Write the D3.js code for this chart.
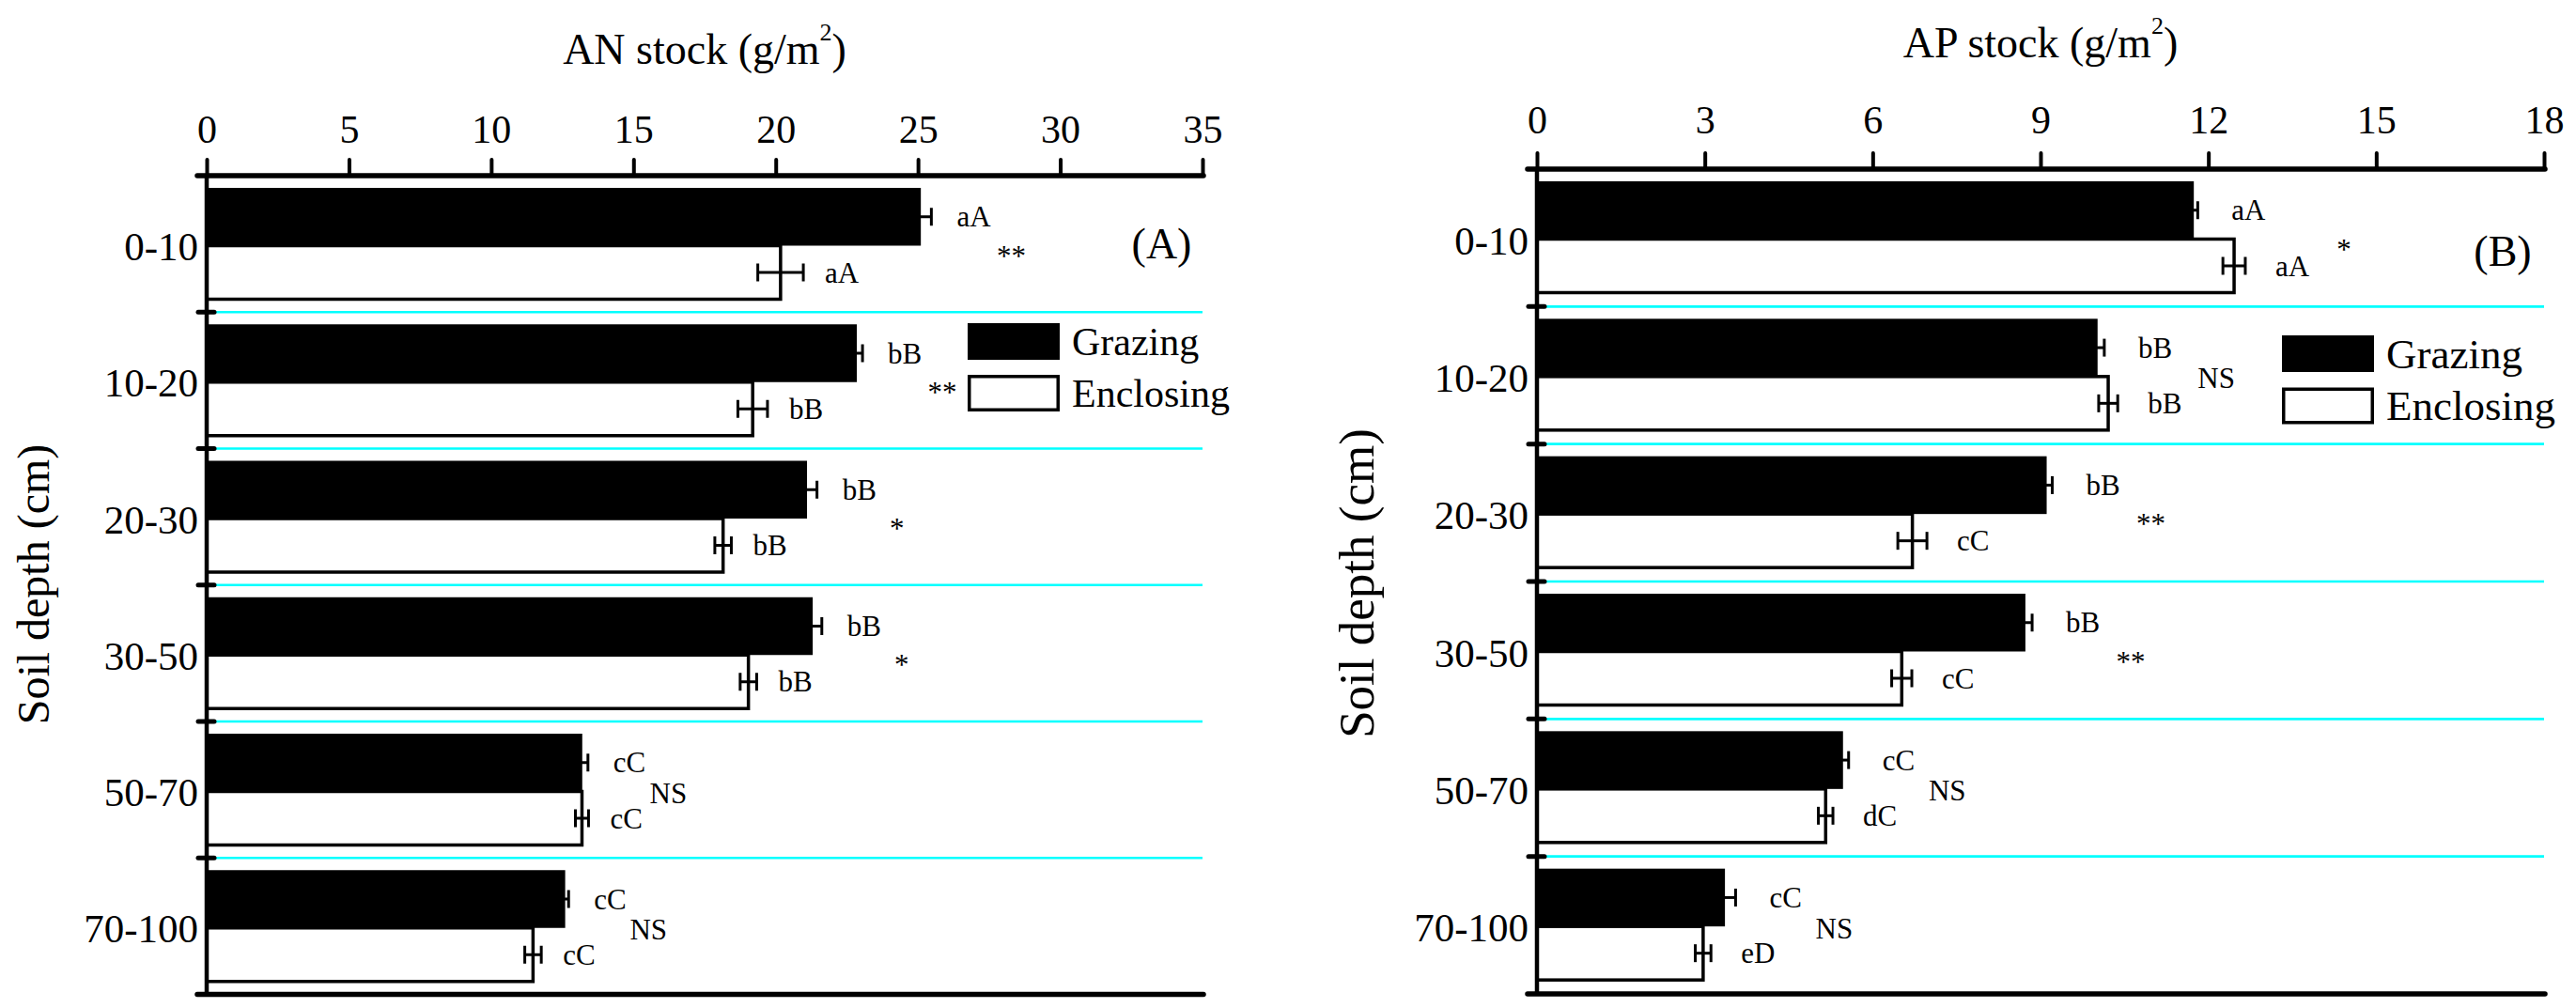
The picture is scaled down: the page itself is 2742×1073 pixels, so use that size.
<!DOCTYPE html>
<html>
<head>
<meta charset="utf-8">
<script src="https://cdn.jsdelivr.net/npm/d3@7/dist/d3.min.js"></script>
<style>
  html, body { margin: 0; padding: 0; background: #fff; }
  svg { display: block; }
  text { font-family: 'Liberation Serif', 'Times New Roman', serif; fill: #000; }
</style>
</head>
<body>
<svg id="chart" width="2742" height="1073"></svg>
<script>
// ---------------- DATA ----------------
const depths = ["0-10", "10-20", "20-30", "30-50", "50-70", "70-100"];
const seriesNames = ["Grazing", "Enclosing"];

// (A) AN stock (g/m2)
const anTicks = [0, 5, 10, 15, 20, 25, 30, 35];
const anGrazing = [25.1, 22.85, 21.1, 21.3, 13.2, 12.6];
const anGrazingErr = [0.37, 0.2, 0.35, 0.32, 0.2, 0.12];
const anEnclosing = [20.17, 19.19, 18.15, 19.04, 13.19, 11.47];
const anEnclosingErr = [0.8, 0.52, 0.29, 0.29, 0.23, 0.29];
const anGrazingLetters = ["aA", "bB", "bB", "bB", "cC", "cC"];
const anEnclosingLetters = ["aA", "bB", "bB", "bB", "cC", "cC"];
const anSig = ["**", "**", "*", "*", "NS", "NS"];

// (B) AP stock (g/m2)
const apTicks = [0, 3, 6, 9, 12, 15, 18];
const apGrazing = [11.74, 10.02, 9.11, 8.73, 5.47, 3.36];
const apGrazingErr = [0.07, 0.12, 0.1, 0.12, 0.1, 0.19];
const apEnclosing = [12.46, 10.21, 6.71, 6.52, 5.16, 2.97];
const apEnclosingErr = [0.2, 0.17, 0.26, 0.18, 0.13, 0.14];
const apGrazingLetters = ["aA", "bB", "bB", "bB", "cC", "cC"];
const apEnclosingLetters = ["aA", "bB", "cC", "cC", "dC", "eD"];
const apSig = ["*", "NS", "**", "**", "NS", "NS"];

// ---------------- LAYOUT ----------------
const svg = d3.select("#chart");
const FONT_TICK = 42, FONT_CAT = 43, FONT_TITLE = 46, FONT_LAB = 31, FONT_SIG = 31;

const panels = [
  {
    title: "AN stock (g/m", tag: "(A)", ticks: anTicks,
    grazing: anGrazing, gErr: anGrazingErr, enclosing: anEnclosing, eErr: anEnclosingErr,
    gLet: anGrazingLetters, eLet: anEnclosingLetters, sig: anSig,
    x0: 220, x1: 1280, yTop: 187, yBot: 1058.5,
    titleY: 68, tickPad: 18, ytitleX: 52, ytitleY: 622, ytitleSize: 48,
    gGap: 27, eGap: 23, sigOff: 85,
    legX: 1030, legY: 344, legFont: 42, legGap: 55,
    tagX: 1236.5, tagY: 259.5
  },
  {
    title: "AP stock (g/m", tag: "(B)", ticks: apTicks,
    grazing: apGrazing, gErr: apGrazingErr, enclosing: apEnclosing, eErr: apEnclosingErr,
    gLet: apGrazingLetters, eLet: apEnclosingLetters, sig: apSig,
    x0: 1636, x1: 2708, yTop: 180, yBot: 1058,
    titleY: 61, tickPad: 21, ytitleX: 1462, ytitleY: 621, ytitleSize: 53,
    gGap: 36, eGap: 32, sigOff: 105,
    legX: 2429, legY: 357, legFont: 45, legGap: 55.5,
    tagX: 2664, tagY: 267
  }
];

const CYAN = "#00FFFF";

function drawPanel(p) {
  const g = svg.append("g");
  const x = d3.scaleLinear().domain([p.ticks[0], p.ticks[p.ticks.length - 1]]).range([p.x0, p.x1]);
  const y = d3.scaleBand().domain(depths).range([p.yTop, p.yBot]).padding(0);
  const bw = y.bandwidth();

  const blackOff = 13, blackH = 61.5, whiteH = 57;
  const gCy = d => y(d) + blackOff + blackH / 2;
  const eCy = d => y(d) + blackOff + blackH + whiteH / 2;
  const boundary = d => y(d) + blackOff + blackH;

  const rows = depths.map((d, i) => ({
    d, g: p.grazing[i], ge: p.gErr[i], e: p.enclosing[i], ee: p.eErr[i],
    gl: p.gLet[i], el: p.eLet[i], s: p.sig[i]
  }));

  // cyan separators
  g.selectAll(".sep").data(depths.slice(1)).join("line")
    .attr("x1", p.x0 + 10).attr("x2", p.x1)
    .attr("y1", d => y(d)).attr("y2", d => y(d))
    .attr("stroke", CYAN).attr("stroke-width", 2.6);

  // enclosing (white) bars
  g.selectAll(".wbar").data(rows).join("rect")
    .attr("x", x(0)).attr("y", r => y(r.d) + blackOff + blackH)
    .attr("width", r => x(r.e) - x(0)).attr("height", whiteH)
    .attr("fill", "#fff").attr("stroke", "#000").attr("stroke-width", 3.5);

  // grazing (black) bars
  g.selectAll(".bbar").data(rows).join("rect")
    .attr("x", x(0) - 2).attr("y", r => y(r.d) + blackOff)
    .attr("width", r => x(r.g) - x(0) + 2).attr("height", blackH)
    .attr("fill", "#000");

  // error bars
  const capH = 9.5;
  function errBars(cls, val, err, cy) {
    const eg = g.selectAll("." + cls).data(rows).join("g");
    eg.append("line")
      .attr("x1", r => x(val(r) - err(r))).attr("x2", r => x(val(r) + err(r)))
      .attr("y1", r => cy(r.d)).attr("y2", r => cy(r.d));
    eg.append("line")
      .attr("x1", r => x(val(r) - err(r))).attr("x2", r => x(val(r) - err(r)))
      .attr("y1", r => cy(r.d) - capH).attr("y2", r => cy(r.d) + capH);
    eg.append("line")
      .attr("x1", r => x(val(r) + err(r))).attr("x2", r => x(val(r) + err(r)))
      .attr("y1", r => cy(r.d) - capH).attr("y2", r => cy(r.d) + capH);
    eg.selectAll("line").attr("stroke", "#000").attr("stroke-width", 3);
  }
  errBars("gerr", r => r.g, r => r.ge, gCy);
  errBars("eerr", r => r.e, r => r.ee, eCy);

  // letters
  g.selectAll(".glab").data(rows).join("text")
    .attr("x", r => x(r.g + r.ge) + p.gGap).attr("y", r => gCy(r.d))
    .attr("dominant-baseline", "central").attr("font-size", FONT_LAB)
    .text(r => r.gl);
  g.selectAll(".elab").data(rows).join("text")
    .attr("x", r => x(r.e + r.ee) + p.eGap).attr("y", r => eCy(r.d))
    .attr("dominant-baseline", "central").attr("font-size", FONT_LAB)
    .text(r => r.el);

  // significance marks
  g.selectAll(".sig").data(rows).join("text")
    .attr("x", r => Math.max(x(r.g + r.ge), x(r.e + r.ee)) + p.sigOff)
    .attr("y", r => r.s === "NS" ? boundary(r.d) + 2 + 10.5 : boundary(r.d) + 6 + 15)
    .attr("text-anchor", "middle").attr("font-size", FONT_SIG)
    .text(r => r.s);

  // top axis with ticks
  const axis = d3.axisTop(x).tickValues(p.ticks).tickSize(17).tickPadding(p.tickPad)
    .tickFormat(d3.format("d"));
  const ag = g.append("g").attr("transform", `translate(0,${p.yTop})`).call(axis);
  ag.select(".domain").remove();
  ag.selectAll(".tick line").attr("stroke", "#000").attr("stroke-width", 4).attr("stroke-linecap", "round");
  ag.selectAll(".tick text").attr("font-size", FONT_TICK)
    .attr("font-family", "'Liberation Serif', 'Times New Roman', serif").attr("fill", "#000");

  // axis frame lines
  g.append("line").attr("x1", p.x0 - 10).attr("x2", p.x1 + 1)
    .attr("y1", p.yTop).attr("y2", p.yTop)
    .attr("stroke", "#000").attr("stroke-width", 5.5).attr("stroke-linecap", "round");
  g.append("line").attr("x1", p.x0 - 10).attr("x2", p.x1 + 1)
    .attr("y1", p.yBot).attr("y2", p.yBot)
    .attr("stroke", "#000").attr("stroke-width", 5.5).attr("stroke-linecap", "round");
  g.append("line").attr("x1", p.x0).attr("x2", p.x0)
    .attr("y1", p.yTop).attr("y2", p.yBot)
    .attr("stroke", "#000").attr("stroke-width", 4.5);
  // y ticks at band boundaries
  g.selectAll(".ytick").data(depths.slice(1)).join("line")
    .attr("x1", p.x0 - 9).attr("x2", p.x0 + 8)
    .attr("y1", d => y(d)).attr("y2", d => y(d))
    .attr("stroke", "#000").attr("stroke-width", 5).attr("stroke-linecap", "round");

  // category labels
  g.selectAll(".cat").data(depths).join("text")
    .attr("x", p.x0 - 9).attr("y", d => y(d) + bw / 2 + 3)
    .attr("text-anchor", "end").attr("dominant-baseline", "central")
    .attr("font-size", FONT_CAT).text(d => d);

  // x title
  const t = g.append("text").attr("x", (p.x0 + p.x1) / 2).attr("y", p.titleY)
    .attr("text-anchor", "middle").attr("font-size", FONT_TITLE);
  t.append("tspan").text(p.title);
  t.append("tspan").attr("font-size", 26).attr("dy", -25).text("2");
  t.append("tspan").attr("dy", 25).text(")");

  // y title
  g.append("text")
    .attr("transform", `translate(${p.ytitleX},${p.ytitleY}) rotate(-90)`)
    .attr("text-anchor", "middle").attr("font-size", p.ytitleSize)
    .text("Soil depth (cm)");

  // panel tag
  g.append("text").attr("x", p.tagX).attr("y", p.tagY)
    .attr("text-anchor", "middle").attr("dominant-baseline", "central")
    .attr("font-size", FONT_TITLE).text(p.tag);

  // legend
  const lg = g.append("g");
  lg.append("rect").attr("x", p.legX).attr("y", p.legY).attr("width", 98).attr("height", 39)
    .attr("fill", "#000");
  lg.append("rect").attr("x", p.legX + 1.75).attr("y", p.legY + p.legGap + 1.75)
    .attr("width", 94.5).attr("height", 35.5)
    .attr("fill", "#fff").attr("stroke", "#000").attr("stroke-width", 3.5);
  lg.selectAll(".legtxt").data(seriesNames).join("text")
    .attr("x", p.legX + 111)
    .attr("y", (d, i) => p.legY + 19.5 + i * p.legGap)
    .attr("dominant-baseline", "central").attr("font-size", p.legFont)
    .text(d => d);
}

panels.forEach(drawPanel);
</script>
</body>
</html>
